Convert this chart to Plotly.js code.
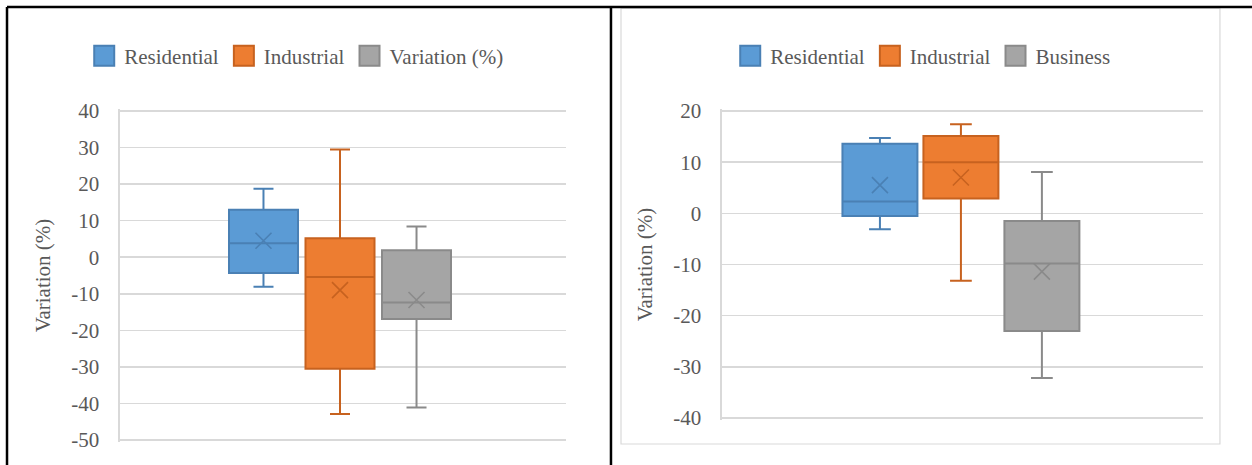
<!DOCTYPE html>
<html>
<head>
<meta charset="utf-8">
<script src="https://cdn.plot.ly/plotly-3.0.1.min.js"></script>
<style>
  html, body { margin: 0; padding: 0; background: #fff; }
  #chart { width: 1252px; height: 465px; }
</style>
</head>
<body>
<div id="chart"></div>
<script>
// Left panel: variation (%) by customer class
const leftNames = ['Residential', 'Industrial', 'Variation (%)'];
const leftLower = [-8.1, -42.9, -41.1];
const leftQ1 = [-4.3, -30.5, -16.9];
const leftMedian = [3.8, -5.4, -12.4];
const leftQ3 = [13.0, 5.2, 1.9];
const leftUpper = [18.7, 29.5, 8.4];
const leftMean = [4.5, -9.0, -11.7];

// Right panel: variation (%) by customer class
const rightNames = ['Residential', 'Industrial', 'Business'];
const rightLower = [-3.1, -13.2, -32.2];
const rightQ1 = [-0.5, 2.9, -23.0];
const rightMedian = [2.3, 10.0, -9.8];
const rightQ3 = [13.6, 15.1, -1.5];
const rightUpper = [14.7, 17.4, 8.1];
const rightMean = [5.5, 7.0, -11.4];

const leftTicks = [40, 30, 20, 10, 0, -10, -20, -30, -40, -50];
const rightTicks = [20, 10, 0, -10, -20, -30, -40];

const fills = ['#5B9BD5', '#ED7D31', '#A5A5A5'];
const edges = ['#4A80B4', '#C7621F', '#8A8A8A'];

const FONT = 'Liberation Serif, Times New Roman, serif';
const GRID = '#D9D9D9';
const TEXT = '#595959';

function panelTraces(names, lower, q1, med, q3, upper, mean, xa, ya, legendId, boxWidth) {
  const out = [];
  names.forEach((n, i) => {
    out.push({
      type: 'box', name: n, x: [n],
      lowerfence: [lower[i]], q1: [q1[i]], median: [med[i]], q3: [q3[i]], upperfence: [upper[i]],
      fillcolor: fills[i], line: {color: edges[i], width: 2},
      whiskerwidth: 0.29, width: boxWidth,
      xaxis: xa, yaxis: ya, legend: legendId, hoverinfo: 'skip'
    });
  });
  // mean markers
  names.forEach((n, i) => {
    out.push({
      type: 'scatter', mode: 'markers', x: [n], y: [mean[i]],
      marker: {symbol: 'x-thin-open', size: 16, color: edges[i], line: {color: edges[i], width: 1.6}},
      xaxis: xa, yaxis: ya, showlegend: false, hoverinfo: 'skip'
    });
  });
  return out;
}

const data = [
  ...panelTraces(leftNames, leftLower, leftQ1, leftMedian, leftQ3, leftUpper, leftMean, 'x', 'y', 'legend', 0.902),
  ...panelTraces(rightNames, rightLower, rightQ1, rightMedian, rightQ3, rightUpper, rightMean, 'x2', 'y2', 'legend2', 0.926)
];

function yAxis(domain, range, ticks) {
  return {
    domain: domain, range: range, tickvals: ticks, ticktext: ticks.map(String),
    showgrid: true, gridcolor: GRID, gridwidth: 1.6, zeroline: false,
    showline: true, linecolor: GRID, linewidth: 1.6,
    ticks: '', ticklabelstandoff: 15,
    tickfont: {family: FONT, size: 21, color: TEXT},
    title: {text: 'Variation (%)', font: {family: FONT, size: 21, color: TEXT}, standoff: 15}
  };
}

function xAxis(domain, range, anchor) {
  return {
    domain: domain, range: range, type: 'category', anchor: anchor,
    showticklabels: false, showgrid: false, zeroline: false, showline: false, ticks: ''
  };
}

function legendAt(x) {
  return {
    orientation: 'h', x: x, xanchor: 'center', y: 0.8796, yanchor: 'middle',
    font: {family: FONT, size: 21, color: TEXT}, bgcolor: 'rgba(0,0,0,0)', itemwidth: 30
  };
}

const layout = {
  width: 1252, height: 465,
  margin: {l: 0, r: 0, t: 0, b: 0},
  paper_bgcolor: '#FFFFFF', plot_bgcolor: '#FFFFFF',
  showlegend: true,
  boxmode: 'overlay',
  // y ranges padded slightly so the outermost gridlines stay inside the plot area
  xaxis: xAxis([0.0958, 0.4521], [-1.876, 3.954], 'y'),
  yaxis: yAxis([0.0490, 0.7660], [-50.6, 40.6], leftTicks),
  xaxis2: xAxis([0.5767, 0.9609], [-1.95, 3.99], 'y2'),
  yaxis2: Object.assign(yAxis([0.0967, 0.7657], [-40.4, 20.4], rightTicks), {anchor: 'x2'}),
  legend: legendAt(0.237),
  legend2: legendAt(0.737),
  shapes: [
    // right chart frame
    {type: 'rect', xref: 'paper', yref: 'paper', x0: 0.496, x1: 0.9744, y0: 0.0452, y1: 0.982,
     line: {color: GRID, width: 1.2}, fillcolor: 'rgba(0,0,0,0)', layer: 'below'},
    // table rules
    {type: 'line', xref: 'paper', yref: 'paper', x0: 0.0056, x1: 1, y0: 0.985, y1: 0.985,
     line: {color: '#000', width: 2.5}},
    {type: 'line', xref: 'paper', yref: 'paper', x0: 0.0056, x1: 0.0056, y0: 0, y1: 0.985,
     line: {color: '#000', width: 2.5}},
    {type: 'line', xref: 'paper', yref: 'paper', x0: 0.488, x1: 0.488, y0: 0, y1: 0.985,
     line: {color: '#000', width: 2.5}}
  ]
};

Plotly.newPlot('chart', data, layout, {displayModeBar: false, staticPlot: true}).then(gd => {
  // larger square legend swatches
  gd.querySelectorAll('path.legendbox').forEach(p => p.setAttribute('d', 'M10,10H-10V-10H10Z'));
});
</script>
</body>
</html>
